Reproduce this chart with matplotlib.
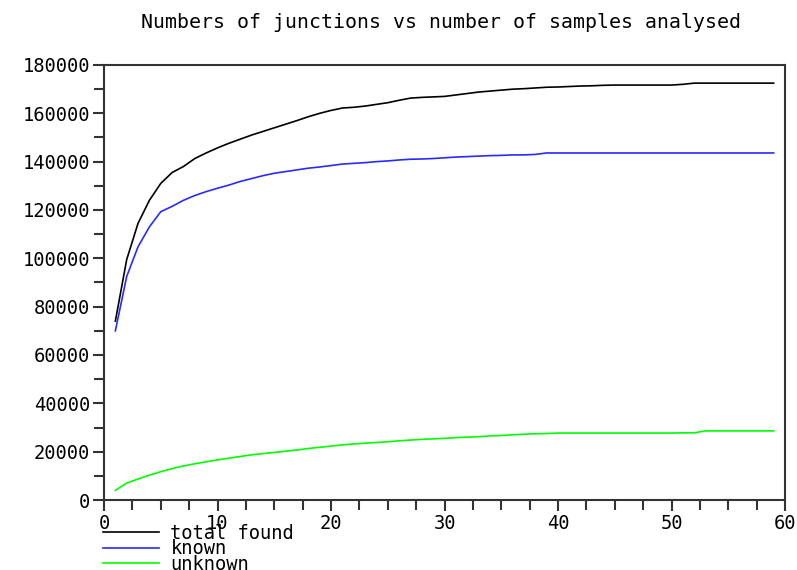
import matplotlib
matplotlib.use('Agg')
import matplotlib.pyplot as plt
from matplotlib.ticker import MultipleLocator

# samples analysed (x) and junction counts
samples = list(range(1, 60))

total_found = [74000, 99500, 114500, 124000, 131000, 135500, 138000, 141300, 143600, 145700,
               147600, 149300, 151000, 152500, 154000, 155500, 157000, 158600, 160000, 161200,
               162200, 162500, 163000, 163700, 164400, 165400, 166300, 166600, 166800, 167000,
               167600, 168200, 168800, 169200, 169600, 170000, 170200, 170500, 170800, 170900,
               171100, 171300, 171400, 171600, 171700, 171700, 171700, 171700, 171700, 171700,
               172000, 172500, 172500, 172500, 172500, 172500, 172500, 172500, 172500]

known = [70000, 92500, 104800, 113000, 119300, 121500, 124000, 126000, 127600, 129000,
         130300, 131800, 133000, 134200, 135200, 135900, 136600, 137300, 137800, 138400,
         139000, 139300, 139600, 140000, 140300, 140700, 141000, 141100, 141300, 141600,
         141900, 142100, 142300, 142500, 142600, 142800, 142800, 143000, 143600, 143600,
         143600, 143600, 143600, 143600, 143600, 143600, 143600, 143600, 143600, 143600,
         143600, 143600, 143600, 143600, 143600, 143600, 143600, 143600, 143600]

unknown = [4000, 7000, 8700, 10300, 11700, 13000, 14100, 15000, 15800, 16600,
           17300, 18000, 18700, 19200, 19700, 20200, 20700, 21300, 21800, 22300,
           22800, 23200, 23500, 23800, 24100, 24500, 24800, 25100, 25300, 25500,
           25800, 26000, 26200, 26500, 26700, 27000, 27200, 27400, 27500, 27700,
           27700, 27700, 27700, 27700, 27700, 27700, 27700, 27700, 27700, 27700,
           27800, 27800, 28600, 28600, 28600, 28600, 28600, 28600, 28600]

plt.rcParams['font.family'] = ['DejaVu Sans Mono']
fs = 13.5

fig = plt.figure(figsize=(7.97, 5.70), dpi=100)
ax = fig.add_axes([104/797, 70/570, 681/797, 435/570])

l1, = ax.plot(samples, total_found, color='black', linewidth=1.2)
l2, = ax.plot(samples, known, color='#2a2aff', linewidth=1.2)
l3, = ax.plot(samples, unknown, color='#00ff00', linewidth=1.2)

ax.set_xlim(0, 60)
ax.set_ylim(0, 180000)
ax.xaxis.set_major_locator(MultipleLocator(10))
ax.xaxis.set_minor_locator(MultipleLocator(2.5))
ax.yaxis.set_major_locator(MultipleLocator(20000))
ax.yaxis.set_minor_locator(MultipleLocator(10000))

for s in ax.spines.values():
    s.set_linewidth(1.5)
    s.set_color('#333333')
ax.tick_params(which='both', direction='out', width=1.5, color='#333333',
               top=False, right=False, labelsize=fs)
ax.tick_params(which='major', length=8, pad=2)
ax.tick_params(which='minor', length=7)

fig.text(441/797, 1 - 22/570, 'Numbers of junctions vs number of samples analysed',
         ha='center', va='center', fontsize=14.3)

ax.legend([l1, l2, l3], ['total found', 'known', 'unknown'],
          loc='upper left', bbox_to_anchor=(103/797, 1 - 524/570),
          bbox_transform=fig.transFigure, frameon=False, fontsize=fs,
          handlelength=3.0, handletextpad=0.6, labelspacing=-0.2,
          borderpad=0, borderaxespad=0)

fig.savefig('out.png', dpi=100)
